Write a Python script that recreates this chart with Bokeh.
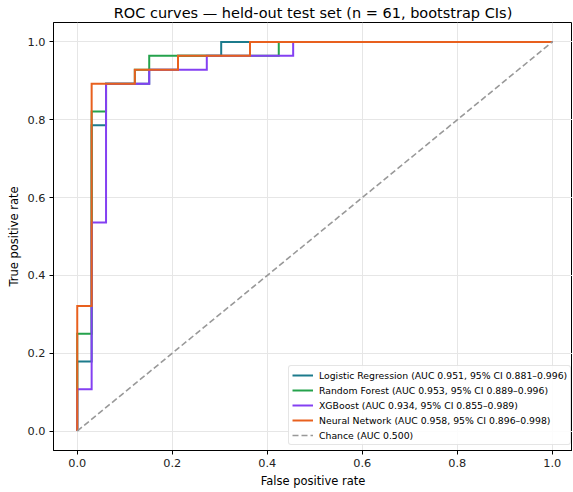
from bokeh.plotting import figure
from bokeh.models import Range1d, FixedTicker, Legend, LegendItem, PrintfTickFormatter
from bokeh.embed import file_html
from bokeh.resources import INLINE

# ---- data (test set: 33 negatives, 28 positives) ----
n_neg = 33
n_pos = 28

lr_fp = [0, 0, 1, 1, 2, 2, 5, 5, 7, 7, 10, 10, 33]
lr_tp = [0, 5, 5, 22, 22, 25, 25, 26, 26, 27, 27, 28, 28]

rf_fp = [0, 0, 1, 1, 2, 2, 4, 4, 5, 5, 14, 14, 33]
rf_tp = [0, 7, 7, 23, 23, 25, 25, 26, 26, 27, 27, 28, 28]

xgb_fp = [0, 0, 1, 1, 2, 2, 5, 5, 9, 9, 15, 15, 33]
xgb_tp = [0, 3, 3, 15, 15, 25, 25, 26, 26, 27, 27, 28, 28]

nn_fp = [0, 0, 1, 1, 4, 4, 7, 7, 12, 12, 33]
nn_tp = [0, 9, 9, 25, 25, 26, 26, 27, 27, 28, 28]

chance_x = [0.0, 1.0]
chance_y = [0.0, 1.0]

model_names = ["Logistic Regression", "Random Forest", "XGBoost", "Neural Network"]
model_auc = [0.951, 0.953, 0.934, 0.958]
ci_low = [0.881, 0.889, 0.855, 0.896]
ci_high = [0.996, 0.996, 0.989, 0.998]
chance_auc = 0.500

ticks = [0.0, 0.2, 0.4, 0.6, 0.8, 1.0]

colors = ["#1c7b8c", "#25a24c", "#8440f2", "#e8601e"]
FONT = "DejaVu Sans"

p = figure(width=572, height=491, output_backend="svg", toolbar_location=None,
           x_range=Range1d(-0.05, 1.0426), y_range=Range1d(-0.05, 1.05),
           min_border_left=53, min_border_right=0, min_border_top=22, min_border_bottom=41)

p.title.text = "ROC curves \u2014 held-out test set (n = 61, bootstrap CIs)"
p.title.text_font = FONT
p.title.text_font_size = "14.5px"
p.title.text_font_style = "normal"
p.title.align = "center"
p.title.standoff = 4
p.title.offset = 0
p.title.text_color = "#000000"

p.outline_line_color = "#000000"
p.outline_line_width = 1
p.background_fill_color = "white"

for ax in (p.xaxis[0], p.yaxis[0]):
    ax.ticker = FixedTicker(ticks=ticks)
    ax.formatter = PrintfTickFormatter(format="%.1f")
    ax.major_tick_out = 4
    ax.major_tick_in = 0
    ax.minor_tick_line_color = None
    ax.axis_line_color = "#000000"
    ax.major_tick_line_color = "#000000"
    ax.major_label_text_font = FONT
    ax.major_label_text_font_size = "11.3px"
    ax.major_label_text_color = "#222222"
    ax.axis_label_text_font = FONT
    ax.axis_label_text_font_size = "11.5px"
    ax.axis_label_text_font_style = "normal"
    ax.axis_label_text_color = "#000000"
    ax.major_label_standoff = 4
    ax.axis_label_standoff = 4

p.xaxis.axis_label = "False positive rate"
p.yaxis.axis_label = "True positive rate"

p.xgrid.ticker = FixedTicker(ticks=ticks)
p.ygrid.ticker = FixedTicker(ticks=ticks)
p.grid.grid_line_color = "#e6e6e6"
p.grid.grid_line_width = 1

fps = [lr_fp, rf_fp, xgb_fp, nn_fp]
tps = [lr_tp, rf_tp, xgb_tp, nn_tp]

items = []
for fp, tp, name, auc, lo, hi, c in zip(fps, tps, model_names, model_auc, ci_low, ci_high, colors):
    x = [v / n_neg for v in fp]
    y = [v / n_pos for v in tp]
    r = p.line(x, y, line_color=c, line_width=2, line_join="miter")
    items.append(LegendItem(label=f"{name} (AUC {auc:.3f}, 95% CI {lo:.3f}\u2013{hi:.3f})", renderers=[r]))

rc = p.line(chance_x, chance_y, line_color="#999999", line_width=1.6, line_dash="6 3")
items.append(LegendItem(label=f"Chance (AUC {chance_auc:.3f})", renderers=[rc]))

legend = Legend(items=items, location=(235, 5))
legend.label_text_font = FONT
legend.label_text_font_size = "9.3px"
legend.label_text_color = "#000000"
legend.glyph_width = 21
legend.glyph_height = 12
legend.label_height = 12
legend.label_standoff = 6
legend.spacing = 3
legend.padding = 3
legend.margin = 0
legend.border_line_color = "#cccccc"
legend.border_line_width = 1
legend.background_fill_alpha = 0.85
legend.border_radius = 3
p.add_layout(legend, "center")

open("out.html", "w").write(file_html(p, INLINE))
